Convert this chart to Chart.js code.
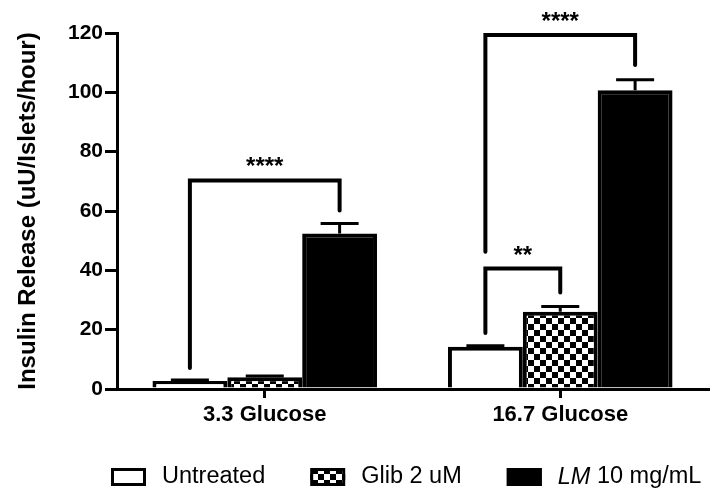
<!DOCTYPE html>
<html>
<head>
<meta charset="utf-8">
<script src="https://cdn.jsdelivr.net/npm/chart.js@4.4.0/dist/chart.umd.min.js"></script>
<style>
  html, body { margin: 0; padding: 0; background: #fff; }
  #wrap { width: 714px; height: 496px; }
</style>
</head>
<body>
<div id="wrap"><canvas id="insulinChart" width="714" height="496"></canvas></div>
<script>
// glucose conditions (x axis)
const categories = ['3.3 Glucose', '16.7 Glucose'];
// treatment groups
const seriesNames = ['Untreated', 'Glib 2 uM', 'LM 10 mg/mL'];
const legendItalic = ['', '', 'LM'];
// mean insulin release, uU/islets/hour
const untreated = [2.7, 14.2];
const glib = [4.0, 26.0];
const lm = [52.4, 100.7];
// upper error (SEM)
const untreatedErr = [0.3, 0.4];
const glibErr = [0.4, 1.8];
const lmErr = [3.4, 3.5];
// y axis ticks
const yTicks = [0, 20, 40, 60, 80, 100, 120];
// significance brackets
const bracketCategory = [0, 1, 1];
const bracketFrom = [0, 0, 0];
const bracketTo = [2, 1, 2];
const bracketTop = [70.3, 40.6, 119.3];
const bracketLeftEnd = [7.1, 18.9, 46.3];
const bracketRightEnd = [60.2, 32.5, 109.2];
const bracketLabel = ['****', '**', '****'];

const FONT = '"Liberation Sans", Arial, sans-serif';

const canvas = document.getElementById('insulinChart');
const ctx = canvas.getContext('2d');

// checkerboard fill for the Glib bars
function checker(size) {
    const c = document.createElement('canvas');
    c.width = size * 2; c.height = size * 2;
    const g = c.getContext('2d');
    g.fillStyle = '#fff';
    g.fillRect(0, 0, size * 2, size * 2);
    g.fillStyle = '#000';
    g.fillRect(0, 0, size, size);
    g.fillRect(size, size, size, size);
    return ctx.createPattern(c, 'repeat');
}
const checkPattern = checker(6);
const fills = ['#ffffff', checkPattern, '#000000'];

// error bars (upper only)
const errorBars = {
    id: 'errorBars',
    afterDatasetsDraw(chart) {
        const c = chart.ctx, y = chart.scales.y;
        c.save();
        c.strokeStyle = '#000';
        c.lineWidth = 3;
        chart.data.datasets.forEach((ds, i) => {
            chart.getDatasetMeta(i).data.forEach((bar, j) => {
                const top = y.getPixelForValue(ds.data[j] + ds.errors[j]);
                c.beginPath();
                c.moveTo(bar.x, bar.y);
                c.lineTo(bar.x, top);
                c.moveTo(bar.x - 19, top);
                c.lineTo(bar.x + 19, top);
                c.stroke();
            });
        });
        c.restore();
    }
};

// significance brackets with stars
const brackets = {
    id: 'brackets',
    afterDatasetsDraw(chart) {
        const c = chart.ctx, y = chart.scales.y;
        c.save();
        c.strokeStyle = '#000';
        c.lineWidth = 4;
        c.lineCap = 'round';
        c.lineJoin = 'miter';
        bracketCategory.forEach((cat, k) => {
            const x1 = chart.getDatasetMeta(bracketFrom[k]).data[cat].x;
            const x2 = chart.getDatasetMeta(bracketTo[k]).data[cat].x;
            const yt = y.getPixelForValue(bracketTop[k]);
            c.beginPath();
            c.moveTo(x1, y.getPixelForValue(bracketLeftEnd[k]));
            c.lineTo(x1, yt);
            c.lineTo(x2, yt);
            c.lineTo(x2, y.getPixelForValue(bracketRightEnd[k]));
            c.stroke();
            c.fillStyle = '#000';
            c.font = 'bold 24px ' + FONT;
            c.textAlign = 'center';
            c.textBaseline = 'alphabetic';
            c.fillText(bracketLabel[k], (x1 + x2) / 2, yt - 6);
        });
        c.restore();
    }
};

// legend under the axis, with italic "LM"
const bottomLegend = {
    id: 'bottomLegend',
    afterDraw(chart) {
        const c = chart.ctx, area = chart.chartArea;
        const boxW = 35, boxH = 18, gap = 16, itemGap = 45, yc = 477;
        const size = 23.5;
        c.save();
        let x = area.left - 6;
        c.textBaseline = 'middle';
        c.textAlign = 'left';
        seriesNames.forEach((name, i) => {
            const it = legendItalic[i];
            const rest = it ? name.slice(it.length) : name;
            c.fillStyle = fills[i];
            c.fillRect(x, yc - boxH / 2, boxW, boxH);
            c.strokeStyle = '#000';
            c.lineWidth = 3;
            c.strokeRect(x + 1.5, yc - boxH / 2 + 1.5, boxW - 3, boxH - 3);
            x += boxW + gap;
            c.fillStyle = '#000';
            if (it) {
                c.font = 'italic ' + size + 'px ' + FONT;
                c.fillText(it, x, yc);
                x += c.measureText(it).width;
            }
            c.font = size + 'px ' + FONT;
            c.fillText(rest, x, yc);
            x += c.measureText(rest).width + itemGap;
        });
        c.restore();
    }
};

new Chart(ctx, {
    type: 'bar',
    data: {
        labels: categories,
        datasets: [
            { label: seriesNames[0], data: untreated, errors: untreatedErr, backgroundColor: fills[0] },
            { label: seriesNames[1], data: glib, errors: glibErr, backgroundColor: fills[1] },
            { label: seriesNames[2], data: lm, errors: lmErr, backgroundColor: fills[2] }
        ]
    },
    options: {
        responsive: false,
        animation: false,
        layout: { padding: { left: 0, right: 6, top: 33, bottom: 62 } },
        datasets: {
            bar: {
                borderColor: '#000',
                borderWidth: 4,
                categoryPercentage: 0.76,
                barPercentage: 1.0
            }
        },
        plugins: {
            legend: { display: false },
            tooltip: { enabled: false }
        },
        scales: {
            x: {
                afterFit: s => { s.height = 45; },
                border: { display: true, color: '#000', width: 3 },
                grid: {
                    offset: false,
                    drawOnChartArea: false,
                    color: '#000',
                    lineWidth: 3,
                    tickLength: 9
                },
                ticks: {
                    color: '#000',
                    padding: 4,
                    font: { family: FONT, size: 22, weight: 'bold' }
                }
            },
            y: {
                min: 0,
                max: 120,
                afterFit: s => { s.width = 117; },
                afterBuildTicks: s => { s.ticks = yTicks.map(v => ({ value: v })); },
                border: { display: true, color: '#000', width: 3 },
                grid: {
                    drawOnChartArea: false,
                    color: '#000',
                    lineWidth: 3,
                    tickLength: 12
                },
                ticks: {
                    color: '#000',
                    padding: 2,
                    font: { family: FONT, size: 21, weight: 'bold' }
                },
                title: {
                    display: true,
                    text: 'Insulin Release (uU/Islets/hour)',
                    color: '#000',
                    padding: { top: 14, bottom: 0 },
                    font: { family: FONT, size: 24, weight: 'bold' }
                }
            }
        }
    },
    plugins: [errorBars, brackets, bottomLegend]
});
</script>
</body>
</html>
